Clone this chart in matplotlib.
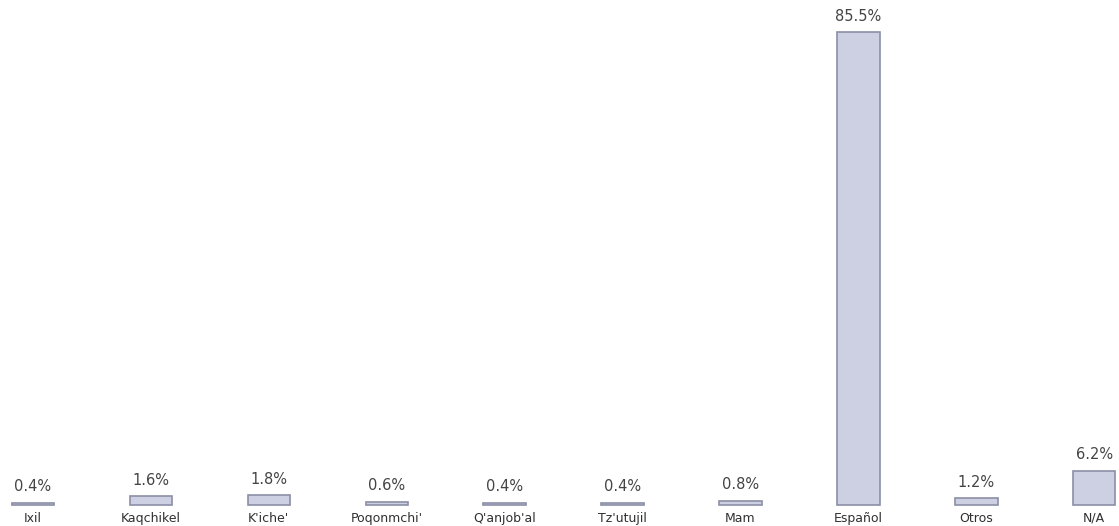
import matplotlib
matplotlib.use("Agg")
import matplotlib.pyplot as plt

categories = ["Ixil", "Kaqchikel", "K'iche'", "Poqonmchi'", "Q'anjob'al",
              "Tz'utujil", "Mam", "Español", "Otros", "N/A"]
values = [0.4, 1.6, 1.8, 0.6, 0.4, 0.4, 0.8, 85.5, 1.2, 6.2]
value_labels = ["0.4%", "1.6%", "1.8%", "0.6%", "0.4%", "0.4%", "0.8%", "85.5%", "1.2%", "6.2%"]

fig = plt.figure(figsize=(11.19, 5.26), dpi=100)
ax = fig.add_axes([0, 0, 1, 1])
x = list(range(len(categories)))
ax.bar(x, values, width=0.36, color="#cdd0e3", edgecolor="#8b8fa6", linewidth=1.2)
ax.set_xlim(-0.28, 9.21)
ax.set_ylim(-3.8, 91.3)
ax.axis("off")

for i, (v, lab, cat) in enumerate(zip(values, value_labels, categories)):
    ax.annotate(lab, (i, v), xytext=(0, 6), textcoords="offset points",
                ha="center", va="bottom", fontsize=10.5, color="#444444",
                family="DejaVu Sans")
    ax.annotate(cat, (i, 0), xytext=(0, -5), textcoords="offset points",
                ha="center", va="top", fontsize=9, color="#303030",
                family="DejaVu Sans")

fig.savefig("out.png", dpi=100, facecolor="white")
